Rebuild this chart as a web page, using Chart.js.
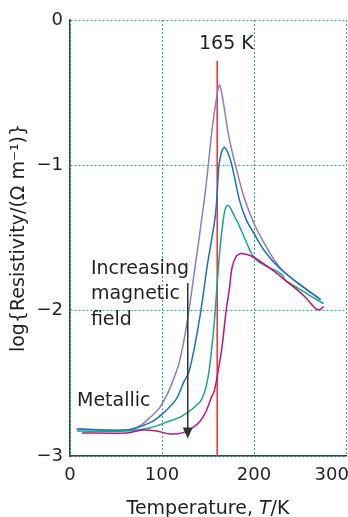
<!DOCTYPE html>
<html>
<head>
<meta charset="utf-8">
<script src="https://cdn.jsdelivr.net/npm/chart.js@4.4.1/dist/chart.umd.min.js"></script>
<style>
  html, body { margin: 0; padding: 0; background: #fff; }
  canvas { display: block; }
</style>
</head>
<body>
<canvas id="chart" width="348" height="517"></canvas>
<script>
// resistivity vs temperature, four field strengths
const xTicks = [0, 100, 200, 300];
const yTicks = [0, -1, -2, -3];

const purpleT = [6.5, 61.6, 75.7, 86.5, 97.3, 105.9, 111.4, 118.9, 126.5, 135.1, 145.9, 149.7, 154.6, 158.9, 162.2, 164.5, 168, 172, 176, 180.2, 189.2, 200, 210.8, 228.1, 248.6, 272.4];
const purpleR = [-2.814, -2.821, -2.793, -2.738, -2.669, -2.572, -2.49, -2.352, -2.11, -1.738, -1.241, -1.034, -0.745, -0.552, -0.448, -0.49, -0.62, -0.78, -0.90, -1.007, -1.22, -1.40, -1.531, -1.703, -1.814, -1.924];

const blueT = [8.6, 61.6, 86.5, 100.5, 115.7, 123.2, 129.7, 140.5, 149.2, 157.3, 159.5, 161.6, 163.8, 165.9, 168.1, 171.4, 175.7, 184.3, 191.4, 200, 211.9, 227, 248.6, 272.4];
const blueR = [-2.814, -2.821, -2.772, -2.71, -2.607, -2.497, -2.414, -2.069, -1.69, -1.379, -1.241, -1.021, -0.931, -0.89, -0.876, -0.91, -0.993, -1.241, -1.372, -1.469, -1.593, -1.703, -1.814, -1.924];

const greenT = [7.6, 61.6, 86.5, 102.7, 122.2, 140.5, 145.9, 150.3, 153.5, 156.8, 160, 163.2, 166.5, 168.6, 170.8, 174, 177.3, 183.8, 191.4, 200, 211.9, 223.8, 230.3, 234.6, 248.6, 262.7, 275.7];
const greenR = [-2.828, -2.828, -2.807, -2.772, -2.724, -2.634, -2.566, -2.448, -2.29, -2.083, -1.814, -1.559, -1.379, -1.303, -1.276, -1.29, -1.331, -1.414, -1.524, -1.634, -1.69, -1.724, -1.752, -1.793, -1.848, -1.903, -1.952];

const magentaT = [13, 61.6, 78.9, 94.1, 108.1, 122.2, 133, 141.6, 148.1, 153.5, 156.8, 161.1, 165.4, 169.7, 173, 176.2, 180.5, 185.9, 192.4, 200, 211.9, 223.8, 235.7, 245.4, 256.2, 267, 271.4, 275.7];
const magentaR = [-2.841, -2.841, -2.821, -2.828, -2.848, -2.841, -2.807, -2.759, -2.69, -2.60, -2.552, -2.414, -2.241, -2.0, -1.862, -1.703, -1.628, -1.607, -1.614, -1.634, -1.683, -1.738, -1.80, -1.848, -1.91, -1.986, -1.993, -1.972];

const transitionT = [160, 160];
const transitionR = [-3, -0.28];

const textColor = '#231f20';
const gridColor = '#1fae86';
const fontFamily = 'DejaVu Sans';

function pts(xs, ys) {
    return xs.map((t, i) => ({ x: t, y: ys[i] }));
}

function curve(xs, ys, color) {
    return {
        data: pts(xs, ys),
        borderColor: color,
        borderWidth: 1.5,
        pointRadius: 0,
        fill: false,
        tension: 0.35
    };
}

const annotate = {
    id: 'annotate',
    afterDatasetsDraw(chart) {
        const { ctx, scales: { x, y } } = chart;
        ctx.save();
        ctx.fillStyle = textColor;
        ctx.font = '19px "' + fontFamily + '"';
        ctx.textBaseline = 'alphabetic';

        ctx.textAlign = 'center';
        ctx.fillText('165 K', x.getPixelForValue(170), y.getPixelForValue(-0.2));

        ctx.textAlign = 'left';
        ctx.fillText('Increasing', x.getPixelForValue(22.7), y.getPixelForValue(-1.75));
        ctx.fillText('magnetic', x.getPixelForValue(22.7), y.getPixelForValue(-1.92));
        ctx.fillText('field', x.getPixelForValue(22.7), y.getPixelForValue(-2.10));
        ctx.fillText('Metallic', x.getPixelForValue(7.6), y.getPixelForValue(-2.655));

        // arrow
        const ax = x.getPixelForValue(128);
        const top = y.getPixelForValue(-1.81);
        const tip = y.getPixelForValue(-2.88);
        ctx.strokeStyle = '#333';
        ctx.lineWidth = 1.5;
        ctx.beginPath();
        ctx.moveTo(ax, top);
        ctx.lineTo(ax, tip - 8);
        ctx.stroke();
        ctx.fillStyle = '#333';
        ctx.beginPath();
        ctx.moveTo(ax - 5, tip - 11);
        ctx.lineTo(ax + 5, tip - 11);
        ctx.lineTo(ax, tip);
        ctx.closePath();
        ctx.fill();
        ctx.restore();
    },
    afterDraw(chart) {
        const { ctx, chartArea } = chart;
        const cx = (chartArea.left + chartArea.right) / 2;
        const base = 514;
        const a = 'Temperature, ', b = 'T', c = '/K';
        ctx.save();
        ctx.fillStyle = textColor;
        ctx.textBaseline = 'alphabetic';
        ctx.textAlign = 'left';
        const normal = '19px "' + fontFamily + '"';
        const italic = 'italic 19px "' + fontFamily + '"';
        ctx.font = normal;
        const wa = ctx.measureText(a).width, wc = ctx.measureText(c).width;
        ctx.font = italic;
        const wb = ctx.measureText(b).width;
        let px = cx - (wa + wb + wc) / 2;
        ctx.font = normal;
        ctx.fillText(a, px, base);
        px += wa;
        ctx.font = italic;
        ctx.fillText(b, px, base);
        px += wb;
        ctx.font = normal;
        ctx.fillText(c, px, base);
        ctx.restore();
    }
};

const minus = v => (v < 0 ? '\u2212' + Math.abs(v) : String(v));

new Chart(document.getElementById('chart'), {
    type: 'line',
    data: {
        datasets: [
            curve(magentaT, magentaR, '#c2137a'),
            curve(greenT, greenR, '#12a88a'),
            curve(blueT, blueR, '#1b6fc2'),
            curve(purpleT, purpleR, '#8c7cc4'),
            {
                data: pts(transitionT, transitionR),
                borderColor: '#ec3b40',
                borderWidth: 1.6,
                pointRadius: 0,
                fill: false
            }
        ]
    },
    options: {
        responsive: false,
        animation: false,
        layout: { padding: { top: 20, right: 2, left: 0, bottom: 0 } },
        plugins: {
            legend: { display: false },
            tooltip: { enabled: false }
        },
        scales: {
            x: {
                type: 'linear',
                min: 0,
                max: 300,
                afterBuildTicks: (scale) => { scale.ticks = xTicks.map(v => ({ value: v })); },
                afterFit: (scale) => {
                    scale.height = 61;
                    scale.paddingLeft = 0;
                    scale.paddingRight = 0;
                },
                grid: { color: gridColor, lineWidth: 1, drawTicks: false },
                border: { display: true, color: '#2d4a44', width: 1.5, dash: [2, 2] },
                ticks: {
                    color: textColor,
                    padding: 9,
                    maxRotation: 0,
                    font: { family: fontFamily, size: 18 },
                    callback: (v) => (v === 300 ? '300     ' : String(v))
                }
            },
            y: {
                type: 'linear',
                min: -3,
                max: 0,
                afterBuildTicks: (scale) => { scale.ticks = yTicks.map(v => ({ value: v })); },
                afterFit: (scale) => {
                    scale.width = 70;
                    scale.paddingTop = 0;
                    scale.paddingBottom = 0;
                },
                grid: { color: gridColor, lineWidth: 1, drawTicks: false },
                border: { display: true, color: '#2d4a44', width: 1.5, dash: [2, 2] },
                title: {
                    display: true,
                    text: 'log{Resistivity/(\u03a9 m\u207b\u00b9)}',
                    color: textColor,
                    font: { family: fontFamily, size: 19 },
                    padding: { top: 8, bottom: 0 }
                },
                ticks: {
                    color: textColor,
                    padding: 7,
                    font: { family: fontFamily, size: 18 },
                    callback: (v) => minus(v)
                }
            }
        }
    },
    plugins: [annotate]
});
</script>
</body>
</html>
